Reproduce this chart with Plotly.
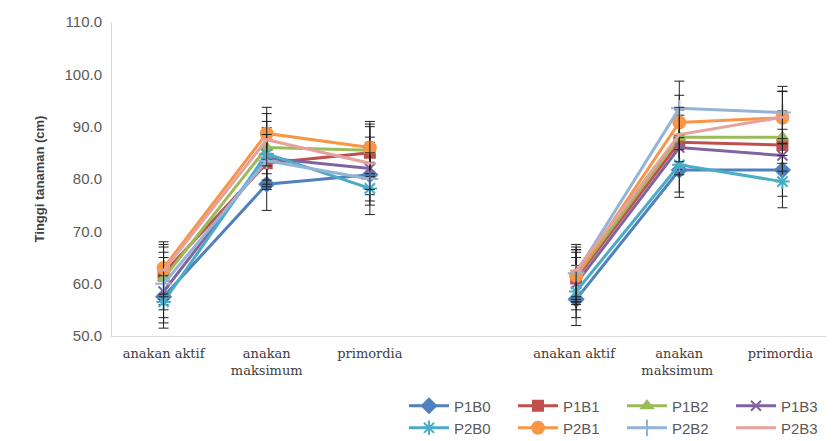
import plotly.graph_objects as go

categories = ["anakan aktif", "anakan<br>maksimum", "primordia", " ",
              "anakan aktif ", "anakan<br>maksimum ", "primordia "]

series_names = ["P1B0", "P1B1", "P1B2", "P1B3", "P2B0", "P2B1", "P2B2", "P2B3"]

P1B0 = [57.5, 79.0, 80.8, None, 57.0, 81.7, 81.7]
P1B1 = [62.0, 83.0, 85.0, None, 61.0, 87.0, 86.5]
P1B2 = [61.0, 86.0, 85.5, None, 61.5, 88.0, 88.0]
P1B3 = [58.5, 84.0, 82.0, None, 60.0, 86.0, 84.5]
P2B0 = [56.5, 84.8, 78.2, None, 58.5, 82.7, 79.5]
P2B1 = [63.0, 88.7, 86.0, None, 61.5, 90.8, 91.7]
P2B2 = [60.0, 83.5, 80.0, None, 62.0, 93.5, 92.7]
P2B3 = [62.5, 87.5, 83.0, None, 62.5, 88.5, 91.8]

errors = [5.0, 5.0, 5.0, None, 5.0, 5.2, 5.0]

values = [P1B0, P1B1, P1B2, P1B3, P2B0, P2B1, P2B2, P2B3]
colors = ["#4F81BD", "#C0504D", "#9BBB59", "#8064A2",
          "#4BACC6", "#F79646", "#95B3D7", "#E6A19E"]
symbols = ["diamond", "square", "triangle-up", "x-thin-open",
           "asterisk-open", "circle", "cross-thin-open", "line-ew-open"]
sizes = [11, 10, 10, 10, 12, 12, 12, 9]
legend_ids = ["legend"] * 4 + ["legend2"] * 4

fig = go.Figure()
for name, vals, col, sym, sz, lg in zip(series_names, values, colors, symbols, sizes, legend_ids):
    fig.add_trace(go.Scatter(
        x=categories, y=vals, name=name, mode="lines+markers",
        connectgaps=False, legend=lg,
        line=dict(color=col, width=3),
        marker=dict(color=col, symbol=sym, size=sz,
                    line=dict(color=col, width=2)),
        error_y=dict(type="data", array=[e if e is not None else 0 for e in errors],
                     visible=True, color="#222222", thickness=1, width=5),
    ))

leg_common = dict(xanchor="left", yanchor="top", orientation="h",
                  xref="container", yref="container",
                  entrywidth=54, entrywidthmode="pixels",
                  font=dict(size=15, color="#595959"), tracegroupgap=0,
                  itemwidth=40, bgcolor="rgba(0,0,0,0)")

fig.update_layout(
    width=826, height=433,
    paper_bgcolor="white", plot_bgcolor="white",
    margin=dict(l=104, r=0, t=14, b=105, autoexpand=False),
    font=dict(family="Liberation Sans", color="#595959"),
    xaxis=dict(type="category", categoryorder="array", categoryarray=categories,
               range=[-0.5, 6.5], showgrid=False, showline=True,
               linecolor="#D9D9D9", linewidth=1, ticks="",
               ticklabelstandoff=5,
               tickfont=dict(family="DejaVu Serif", size=13, color="#404040")),
    yaxis=dict(range=[50, 110], dtick=10, tickformat=".1f", showgrid=False,
               showline=True, linecolor="#D9D9D9", linewidth=1, ticks="",
               zeroline=False, ticklabelstandoff=6,
               tickfont=dict(size=15, color="#595959"),
               title=dict(text="<b>Tinggi tanaman (cm)</b>",
                          font=dict(size=13, color="#404040"), standoff=16)),
    legend=dict(x=0.4794, y=0.119, **leg_common),
    legend2=dict(x=0.4794, y=0.068, **leg_common),
    showlegend=True,
)

fig.write_html("out.html")
